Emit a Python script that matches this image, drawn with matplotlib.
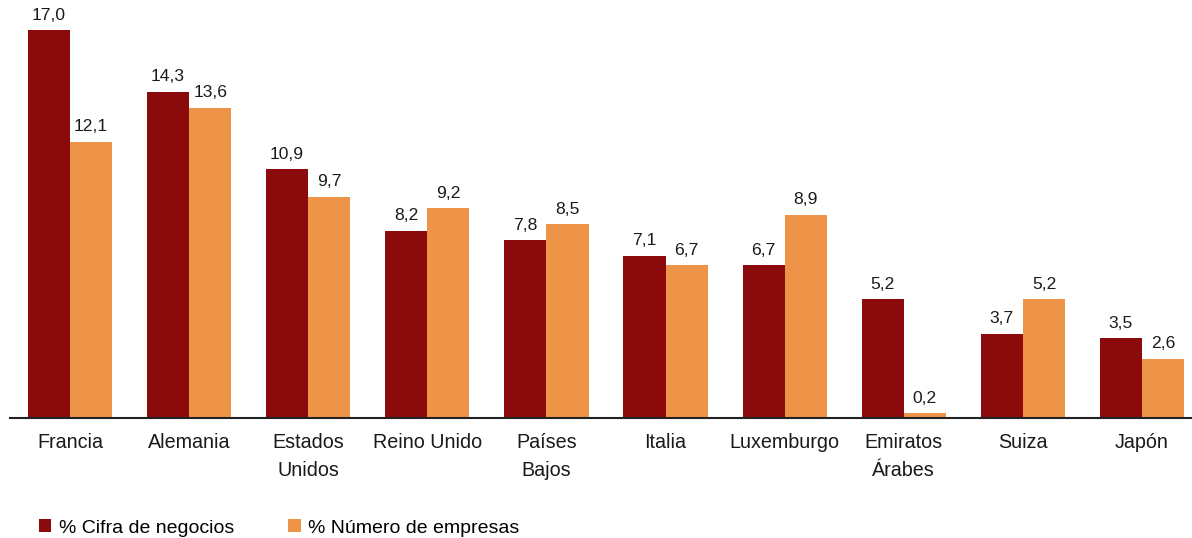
import matplotlib.pyplot as plt
import numpy as np

plt.rcParams['font.family'] = ['Liberation Sans', 'DejaVu Sans']

paises = ['Francia', 'Alemania', 'Estados\nUnidos', 'Reino Unido', 'Países\nBajos',
          'Italia', 'Luxemburgo', 'Emiratos\nÁrabes', 'Suiza', 'Japón']
cifra_negocios = [17.0, 14.3, 10.9, 8.2, 7.8, 7.1, 6.7, 5.2, 3.7, 3.5]
numero_empresas = [12.1, 13.6, 9.7, 9.2, 8.5, 6.7, 8.9, 0.2, 5.2, 2.6]

W, H = 1192, 538
fig = plt.figure(figsize=(W / 100, H / 100), dpi=100)
# axis line at y=418 px, 22.8 px per unit
ymax = 18
ax = fig.add_axes([10.4 / W, (H - 418) / H, 1191.2 / W, ymax * 22.8 / H])

x = np.arange(len(paises))
bw = 0.354
b1 = ax.bar(x - bw / 2, cifra_negocios, bw, color='#8B0A0C', label='% Cifra de negocios')
b2 = ax.bar(x + bw / 2, numero_empresas, bw, color='#EE9449', label='% Número de empresas')

def fmt(v):
    return f'{v:.1f}'.replace('.', ',')

for bars, vals in [(b1, cifra_negocios), (b2, numero_empresas)]:
    for rect, v in zip(bars, vals):
        ax.annotate(fmt(v), (rect.get_x() + rect.get_width() / 2, v),
                    xytext=(0, 5.5), textcoords='offset points',
                    ha='center', va='bottom', fontsize=12.6, color='#1a1a1a')

ax.set_xlim(-0.5, 9.5)
ax.set_ylim(0, ymax)
ax.set_xticks(x)
ax.set_xticklabels(paises, fontsize=14.2, linespacing=1.6, color='#1a1a1a')
ax.tick_params(axis='x', length=0, pad=11)
ax.set_yticks([])
for s in ['top', 'right', 'left']:
    ax.spines[s].set_visible(False)
ax.spines['bottom'].set_color('#222222')
ax.spines['bottom'].set_linewidth(1.5)

fig.legend(loc='center left', bbox_to_anchor=(31 / W, 1 - 528 / H), ncol=2, frameon=False,
           fontsize=14, handlelength=0.65, handleheight=0.65, handletextpad=0.4,
           columnspacing=2.75, borderaxespad=0)

fig.savefig('out.png', dpi=100)
